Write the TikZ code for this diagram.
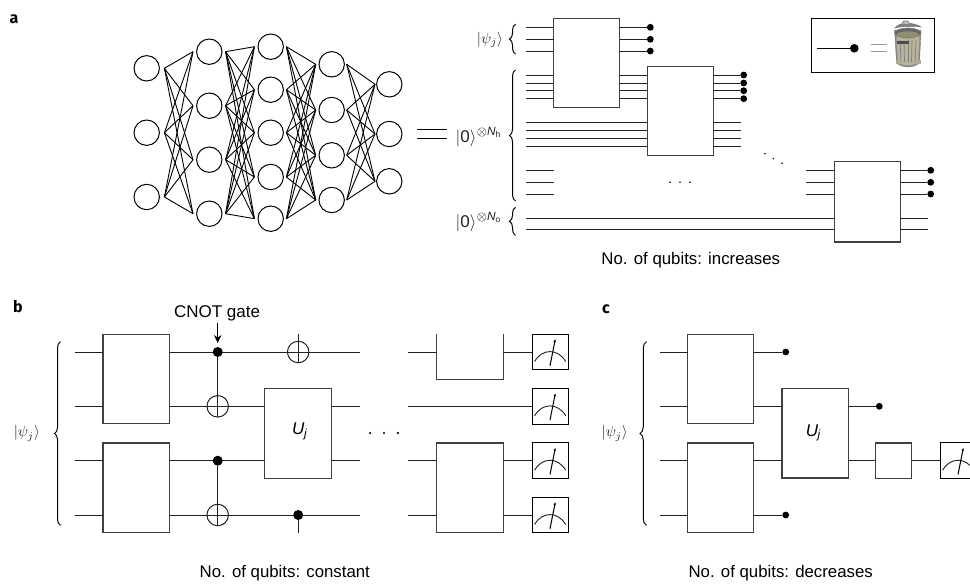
\documentclass[tikz,border=0pt]{standalone}
\usepackage{amsmath}
\usepackage{fontspec}
\setmainfont{Liberation Sans}
\newfontfamily\panelfont{Fira Sans}
\usetikzlibrary{arrows.meta,decorations.pathreplacing,calc}
\definecolor{ink}{HTML}{222222}
\definecolor{boxc}{HTML}{404040}
\tikzset{
 neuron/.style={circle,draw=black,line width=1pt,minimum size=25.4pt,inner sep=0pt,outer sep=0pt},
 edgeline/.style={black,line width=0.9pt},
 wire/.style={ink,line width=1pt},
 gate/.style={rectangle,draw=boxc,fill=white,line width=1.1pt,inner sep=0pt,outer sep=0pt},
 meterbox/.style={rectangle,draw=black,fill=white,line width=1pt,inner sep=0pt,outer sep=0pt,minimum width=36pt,minimum height=35.5pt},
 bdot/.style={circle,fill=black,inner sep=0pt,outer sep=0pt,minimum size=6.8pt},
 cdot/.style={circle,fill=black,inner sep=0pt,outer sep=0pt,minimum size=10pt},
 tdot/.style={circle,fill=black,inner sep=0pt,outer sep=0pt,minimum size=1.7pt},
 oplusn/.style={circle,draw=ink,line width=1pt,inner sep=0pt,outer sep=0pt,minimum size=21.5pt},
 bracel/.style={decorate,decoration={brace,amplitude=#1},black,line width=1pt},
 lbl/.style={inner sep=0pt,font=\fontsize{16.8}{20}\selectfont},
 ketl/.style={inner sep=0pt,scale=1.5,text=ink},
 zerol/.style={inner sep=0pt,scale=1.7,text=ink,anchor=east},
 panel/.style={inner sep=0pt,font=\panelfont\bfseries\fontsize{16}{18}\selectfont},
}
\newcommand{\gatebox}[5]{\node[gate,minimum width={(#3-(#2))*1pt},minimum height={(#5-(#4))*1pt}] (#1) at ({(#2+#3)/2},{(#4+#5)/2}) {};}
\newcommand{\metergauge}[1]{%
 \draw[ink,line width=0.9pt] ([shift={(2.6,27.3)}]#1.north west) .. controls ([shift={(10,14)}]#1.north west) and ([shift={(26,14)}]#1.north west) .. ([shift={(33.7,27.3)}]#1.north west);
 \draw[black,line width=1pt,-{Stealth[length=3pt,width=2.4pt]}] ([shift={(18,31.5)}]#1.north west) -- ([shift={(23.3,5)}]#1.north west);}
\begin{document}
\begin{tikzpicture}[x=1pt,y=-1pt]
\clip (0,0) rectangle (970,584);
\fill[white] (0,0) rectangle (970,584);
% panel labels
\node[panel] (pa) at (14,19) {a};
\node[panel] (pb) at (18,307) {b};
\node[panel] (pc) at (606,309) {c};
% neural network
\foreach \n/\x/\y in {a1/146.7/68.3,a2/146.7/132.7,a3/146.7/197,
 b1/209.3/51.7,b2/209.3/105.7,b3/209.3/159.7,b4/209.3/213.7,
 c1/270.7/46.7,c2/270.7/89.7,c3/270.7/132.7,c4/270.7/177,c5/270.7/218.7,
 d1/331.7/64.3,d2/331.7/110,d3/331.7/155.3,d4/331.7/200,
 e1/389.3/84.3,e2/389.3/134,e3/389.3/181.3}
 \node[neuron] (\n) at (\x,\y) {};
\foreach \i in {a1,a2,a3} \foreach \j in {b1,b2,b3,b4}
 \draw[edgeline] ([xshift=5pt]\i.east) -- ([xshift=-3.6pt]\j.west);
\foreach \i in {b1,b2,b3,b4} \foreach \j in {c1,c2,c3,c4,c5}
 \draw[edgeline] ([xshift=3.6pt]\i.east) -- ([xshift=-3.6pt]\j.west);
\foreach \i in {c1,c2,c3,c4,c5} \foreach \j in {d1,d2,d3,d4}
 \draw[edgeline] ([xshift=3pt]\i.east) -- ([xshift=-3.3pt]\j.west);
\foreach \i in {d1,d2,d3,d4} \foreach \j in {e1,e2,e3}
 \draw[edgeline] ([xshift=2.3pt]\i.east) -- ([xshift=-1.6pt]\j.west);
% equals
\coordinate (eq1a) at (417.3,129.3); \coordinate (eq1b) at (446.7,129.3);
\coordinate (eq2a) at (417.3,138.3); \coordinate (eq2b) at (446.7,138.3);
\draw[black,line width=1.5pt] (eq1a) -- (eq1b);
\draw[black,line width=1.5pt] (eq2a) -- (eq2b);
% panel a circuit
\gatebox{ga1}{553.7}{619.7}{18.3}{107.7}
\gatebox{ga2}{647.3}{713.3}{66.3}{155.3}
\gatebox{ga3}{834.3}{900.3}{161.3}{242}
\foreach \i/\y in {1/27.3,2/39.3,3/51}{
 \coordinate (pi\i) at (526,\y);
 \node[bdot] (po\i) at (650.3,\y) {};
 \draw[wire] (pi\i) -- (pi\i -| ga1.west);
 \draw[wire] (pi\i -| ga1.east) -- (po\i);}
\foreach \i/\y in {1/75,2/83,3/90.7,4/98.7}{
 \coordinate (qi\i) at (526,\y);
 \node[bdot] (qo\i) at (743.7,\y) {};
 \draw[wire] (qi\i) -- (qi\i -| ga1.west);
 \draw[wire] (qi\i -| ga1.east) -- (qi\i -| ga2.west);
 \draw[wire] (qi\i -| ga2.east) -- (qo\i);}
\foreach \i/\y in {1/122.7,2/130.7,3/138.3,4/146.3}{
 \coordinate (ri\i) at (526,\y);
 \coordinate (ro\i) at (740.7,\y);
 \draw[wire] (ri\i) -- (ri\i -| ga2.west);
 \draw[wire] (ri\i -| ga2.east) -- (ro\i);}
\foreach \i/\y in {1/170.3,2/182.3,3/194}{
 \coordinate (si\i) at (526,\y);
 \coordinate (sa\i) at (554,\y);
 \coordinate (sb\i) at (806.3,\y);
 \node[bdot] (so\i) at (930.7,\y) {};
 \draw[wire] (si\i) -- (sa\i);
 \draw[wire] (sb\i) -- (sb\i -| ga3.west);
 \draw[wire] (sb\i -| ga3.east) -- (so\i);}
\foreach \i/\y in {1/218,2/229.7}{
 \coordinate (ti\i) at (526,\y);
 \coordinate (to\i) at (927.7,\y);
 \draw[wire] (ti\i) -- (ti\i -| ga3.west);
 \draw[wire] (ti\i -| ga3.east) -- (to\i);}
\foreach \n/\x/\y in {h1/670/182.3,h2/680/182.3,h3/690/182.3,k1/765/153.7,k2/773.3/158.7,k3/782/163.3}
 \node[tdot] (\n) at (\x,\y) {};
\draw[bracel=6pt] (515.5,54) -- (515.5,24.3);
\draw[bracel=6pt] (515.5,201) -- (515.5,70);
\draw[bracel=6pt] (515.5,235.3) -- (515.5,207.3);
\node[ketl] (kpa) at (490,40) {$|\psi_j\rangle$};
\node[zerol] (z1) at (502.5,137) {$|\text{0}\rangle^{\otimes\text{\itshape N}_{\text{h}}}$};
\node[zerol] (z2) at (502.5,222) {$|\text{0}\rangle^{\otimes\text{\itshape N}_{\text{o}}}$};
\node[lbl] (ta) at (690.8,260) {No. of qubits: increases};
% legend
\node[rectangle,draw=black,line width=1pt,minimum width=123pt,minimum height=53.7pt,inner sep=0pt,outer sep=0pt] (leg) at (872.8,45.2) {};
\coordinate (lga) at (817,48.3);
\node[cdot,minimum size=8.6pt] (lgd) at (854.3,48.3) {};
\draw[black,line width=1pt] (lga) -- (lgd);
\draw[gray!80,line width=1.2pt] (870.7,44.7) -- (887.3,44.7) (870.7,51.7) -- (887.3,51.7);
% trash can
\fill[black!45!white,draw=black!55!white,line width=0.4pt] (894.6,30) -- (896.5,62) .. controls (900,68.5) and (916,68.5) .. (919.5,62) -- (921,30) -- cycle;
\fill[black!30!white!85!olive] (896.5,36) -- (898,62) .. controls (902,66.5) and (914,66.5) .. (918,62) -- (919.5,36) -- cycle;
\foreach \x/\xb in {900/901,904/904.5,908/908,912/911.5,916/915}
 \draw[black!50!white,line width=0.7pt] (\x,40) -- (\xb,62);
\fill[black!60!white,draw=black!50!white,line width=0.7pt] (907.8,33) ellipse [x radius=13.2pt,y radius=5pt];
\fill[black!65!olive!60!white] (907.8,34.5) ellipse [x radius=11pt,y radius=3.2pt];
\fill[black!50!white,draw=black!60!white,line width=0.4pt] (895,28) .. controls (900,21) and (914,22.5) .. (921,27) .. controls (914,26) and (902,26) .. (895,28) -- cycle;
\draw[black!55!white,fill=black!25!white,line width=0.6pt] (902,23.5) -- (903.5,21) -- (908,21) -- (909.5,24);
\fill[black!70!white] (897,40.5) rectangle (909,43.5);
\fill[black!35!white!85!olive] (895.5,60) rectangle (899,64);
\fill[black!35!white!85!olive] (916.5,60) rectangle (920.5,64);
% panel b
\gatebox{bb1}{103}{169.7}{334.3}{423.7}
\gatebox{bb2}{103}{169.7}{443}{532.3}
\gatebox{bu}{264.9}{331.6}{388.7}{478.3}
\node[lbl,font=\itshape\fontsize{17}{20}\selectfont] (bul) at (299.7,431.7) {U\textsubscript{\kern-0.5pt j}};
\foreach \i/\y in {1/352,2/406.3,3/460.7,4/515}{
 \coordinate (bi\i) at (75,\y);
 \coordinate (bs\i) at (408,\y);}
\draw[wire] (bi1) -- (bi1 -| bb1.west);
\draw[wire] (bi2) -- (bi2 -| bb1.west);
\draw[wire] (bi3) -- (bi3 -| bb2.west);
\draw[wire] (bi4) -- (bi4 -| bb2.west);
\coordinate (be1) at (360,352); \coordinate (be2) at (360,406.3);
\coordinate (be3) at (360,460.7); \coordinate (be4) at (360,515);
\draw[wire] (bi1 -| bb1.east) -- (be1);
\draw[wire] (bi2 -| bb1.east) -- (bi2 -| bu.west);
\draw[wire] (bi2 -| bu.east) -- (be2);
\draw[wire] (bi3 -| bb2.east) -- (bi3 -| bu.west);
\draw[wire] (bi3 -| bu.east) -- (be3);
\draw[wire] (bi4 -| bb2.east) -- (be4);
\node[cdot] (c1) at (217.7,352) {};
\node[oplusn] (x1) at (217.7,406.3) {};
\node[cdot] (c2) at (217.7,460.7) {};
\node[oplusn] (x2) at (217.7,515) {};
\draw[wire] (c1) -- (x1.south);
\draw[wire] (c2) -- (x2.south);
\node[oplusn] (x3) at (298.2,352) {};
\coordinate (x3t) at (298.2,334);
\draw[wire] (x3t) -- (x3.south);
\node[cdot] (c3) at (298.2,515) {};
\coordinate (c3b) at (298.2,532.7);
\draw[wire] (c3) -- (c3b);
\node[lbl,font=\fontsize{17}{20}\selectfont] (cnot) at (217,313.5) {CNOT gate};
\coordinate (cnota) at (217.7,323.3);
\draw[black,line width=1pt,-{Stealth[length=8pt,width=7.5pt]}] (cnota) -- ([yshift=4pt]c1.north);
\foreach \n/\x in {m1/370.2,m2/384,m3/397.9}
 \node[tdot,minimum size=2.4pt] (\n) at (\x,433) {};
% right part of b
\gatebox{br2}{436.9}{503.2}{443}{532.3}
\coordinate (brtl) at (436.9,334.3); \coordinate (brtr) at (503.2,334.3);
\coordinate (brbl) at (436.9,379.3); \coordinate (brbr) at (503.2,379.3);
\draw[boxc,line width=1.1pt] (brtl) -- (brbl) -- (brbr) -- (brtr);
\node[meterbox] (mt1) at (550,352) {};
\node[meterbox] (mt2) at (550,406.3) {};
\node[meterbox] (mt3) at (550,460.7) {};
\node[meterbox] (mt4) at (550,515) {};
\foreach \k in {mt1,mt2,mt3,mt4} \metergauge{\k}
\draw[wire] (bs1) -- (bs1 -| brtl);
\draw[wire] (bs1 -| brtr) -- (mt1.west);
\draw[wire] (bs2) -- (mt2.west);
\draw[wire] (bs3) -- (br2.west |- bs3);
\draw[wire] (bs3 -| br2.east) -- (mt3.west);
\draw[wire] (bs4) -- (br2.west |- bs4);
\draw[wire] (bs4 -| br2.east) -- (mt4.west);
\draw[bracel=6pt] (60.5,525.3) -- (60.5,341.7);
\node[ketl] (kb) at (26.8,433.5) {$|\psi_j\rangle$};
\node[lbl] (tb) at (284.8,573.3) {No. of qubits: constant};
% panel c
\gatebox{cb1}{687.7}{753.7}{334.3}{423.7}
\gatebox{cb2}{687.7}{753.7}{443}{532.3}
\gatebox{cu}{782}{848.3}{388.3}{478}
\gatebox{cs}{875.7}{911.7}{443}{478.3}
\node[lbl,font=\itshape\fontsize{17}{20}\selectfont] (cul) at (813.3,433) {U\textsubscript{\kern-0.5pt j}};
\node[meterbox] (mt5) at (958,460.7) {};
\metergauge{mt5}
\foreach \i/\y in {1/352,2/406.3,3/460.7,4/515}
 \coordinate (ci\i) at (660.3,\y);
\node[bdot] (cd1) at (785.7,352) {};
\node[bdot] (cd2) at (879.3,406.3) {};
\node[bdot] (cd4) at (785.7,515) {};
\draw[wire] (ci1) -- (ci1 -| cb1.west);
\draw[wire] (ci2) -- (ci2 -| cb1.west);
\draw[wire] (ci3) -- (ci3 -| cb2.west);
\draw[wire] (ci4) -- (ci4 -| cb2.west);
\draw[wire] (ci1 -| cb1.east) -- (cd1);
\draw[wire] (ci2 -| cb1.east) -- (ci2 -| cu.west);
\draw[wire] (ci3 -| cb2.east) -- (ci3 -| cu.west);
\draw[wire] (ci4 -| cb2.east) -- (cd4);
\draw[wire] (ci2 -| cu.east) -- (cd2);
\draw[wire] (ci3 -| cu.east) -- (ci3 -| cs.west);
\draw[wire] (ci3 -| cs.east) -- (mt5.west);
\draw[bracel=6.5pt] (646.5,525.3) -- (646.5,341.7);
\node[ketl] (kc) at (614.7,433.5) {$|\psi_j\rangle$};
\node[lbl] (tc) at (780.7,573.3) {No. of qubits: decreases};
\end{tikzpicture}
\end{document}
